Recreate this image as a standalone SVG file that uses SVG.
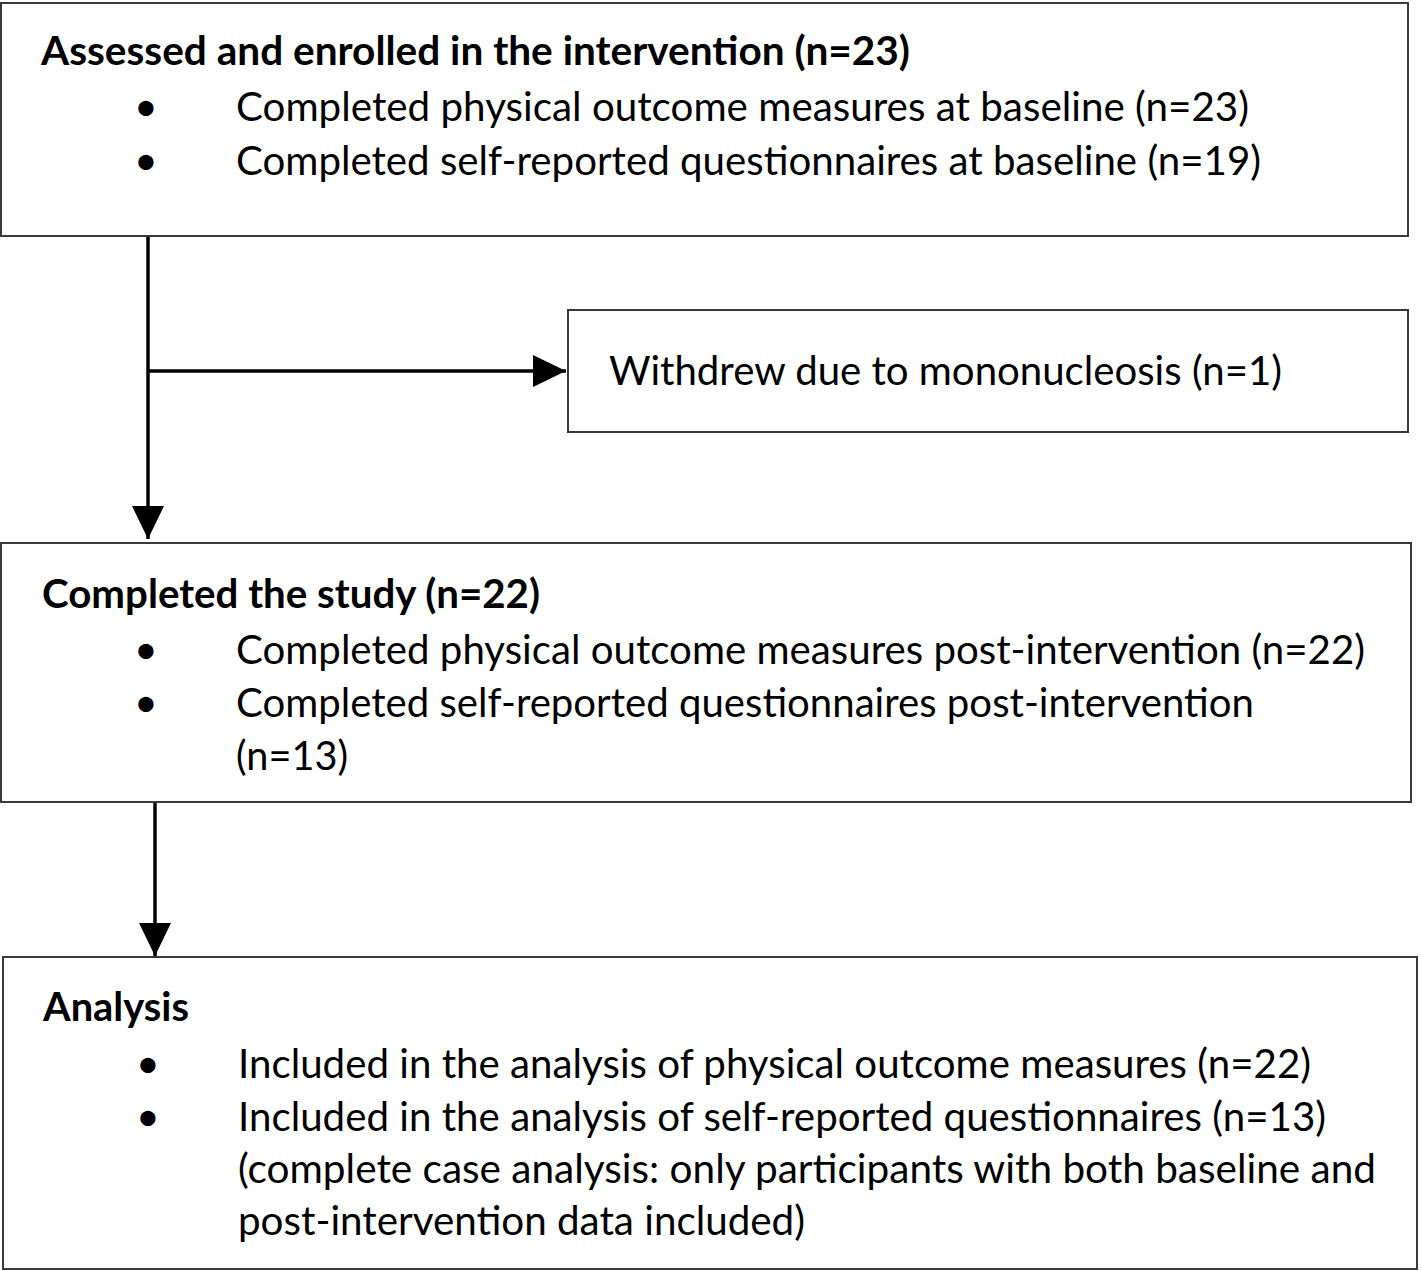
<svg xmlns="http://www.w3.org/2000/svg" width="1421" height="1271" viewBox="0 0 1421 1271">
  <style>
    .box { fill: #ffffff; stroke: #3a3a3a; stroke-width: 2; }
    .t { font-family: Lato, "Open Sans", "Liberation Sans", sans-serif; font-size: 41px; fill: #000000; }
    .b { font-weight: bold; }
    .conn { stroke: #000000; stroke-width: 3.5; fill: none; }
  </style>
  <defs>
    <marker id="arrow" markerUnits="userSpaceOnUse" viewBox="0 0 33 32" refX="33" refY="16" markerWidth="33" markerHeight="32" orient="auto">
      <path d="M0,0 L33,16 L0,32 Z" fill="#000000"/>
    </marker>
  </defs>
  <rect width="1421" height="1271" fill="#ffffff"/>

  <g id="connectors">
    <path class="conn" d="M148,236 L148,539" marker-end="url(#arrow)"/>
    <path class="conn" d="M148,371 L566,371" marker-end="url(#arrow)"/>
    <path class="conn" d="M155,802 L155,956" marker-end="url(#arrow)"/>
  </g>

  <g id="enrolled">
    <rect class="box" x="1" y="3" width="1407" height="233"/>
    <text class="t b" x="41" y="65" textLength="869" lengthAdjust="spacingAndGlyphs">Assessed and enrolled in the intervention (n=23)</text>
    <text class="t" x="146" y="121" text-anchor="middle">•</text>
    <text class="t" x="236" y="121" textLength="1013" lengthAdjust="spacingAndGlyphs">Completed physical outcome measures at baseline (n=23)</text>
    <text class="t" x="146" y="175" text-anchor="middle">•</text>
    <text class="t" x="236" y="175" textLength="1025" lengthAdjust="spacingAndGlyphs">Completed self-reported questionnaires at baseline (n=19)</text>
  </g>

  <g id="withdrew">
    <rect class="box" x="568" y="310" width="840" height="122"/>
    <text class="t" x="609" y="385" textLength="673" lengthAdjust="spacingAndGlyphs">Withdrew due to mononucleosis (n=1)</text>
  </g>

  <g id="completed">
    <rect class="box" x="1" y="543" width="1410" height="259"/>
    <text class="t b" x="42" y="608" textLength="498" lengthAdjust="spacingAndGlyphs">Completed the study (n=22)</text>
    <text class="t" x="146" y="664" text-anchor="middle">•</text>
    <text class="t" x="236" y="664" textLength="1129" lengthAdjust="spacingAndGlyphs">Completed physical outcome measures post-intervention (n=22)</text>
    <text class="t" x="146" y="717" text-anchor="middle">•</text>
    <text class="t" x="236" y="717" textLength="1018" lengthAdjust="spacingAndGlyphs">Completed self-reported questionnaires post-intervention</text>
    <text class="t" x="236" y="770" textLength="112" lengthAdjust="spacingAndGlyphs">(n=13)</text>
  </g>

  <g id="analysis">
    <rect class="box" x="3" y="957" width="1414" height="312"/>
    <text class="t b" x="43" y="1021" textLength="146" lengthAdjust="spacingAndGlyphs">Analysis</text>
    <text class="t" x="148" y="1078" text-anchor="middle">•</text>
    <text class="t" x="238" y="1078" textLength="1073" lengthAdjust="spacingAndGlyphs">Included in the analysis of physical outcome measures (n=22)</text>
    <text class="t" x="148" y="1131" text-anchor="middle">•</text>
    <text class="t" x="238" y="1131" textLength="1088" lengthAdjust="spacingAndGlyphs">Included in the analysis of self-reported questionnaires (n=13)</text>
    <text class="t" x="238" y="1183" textLength="1138" lengthAdjust="spacingAndGlyphs">(complete case analysis: only participants with both baseline and</text>
    <text class="t" x="238" y="1235" textLength="567" lengthAdjust="spacingAndGlyphs">post-intervention data included)</text>
  </g>
</svg>
